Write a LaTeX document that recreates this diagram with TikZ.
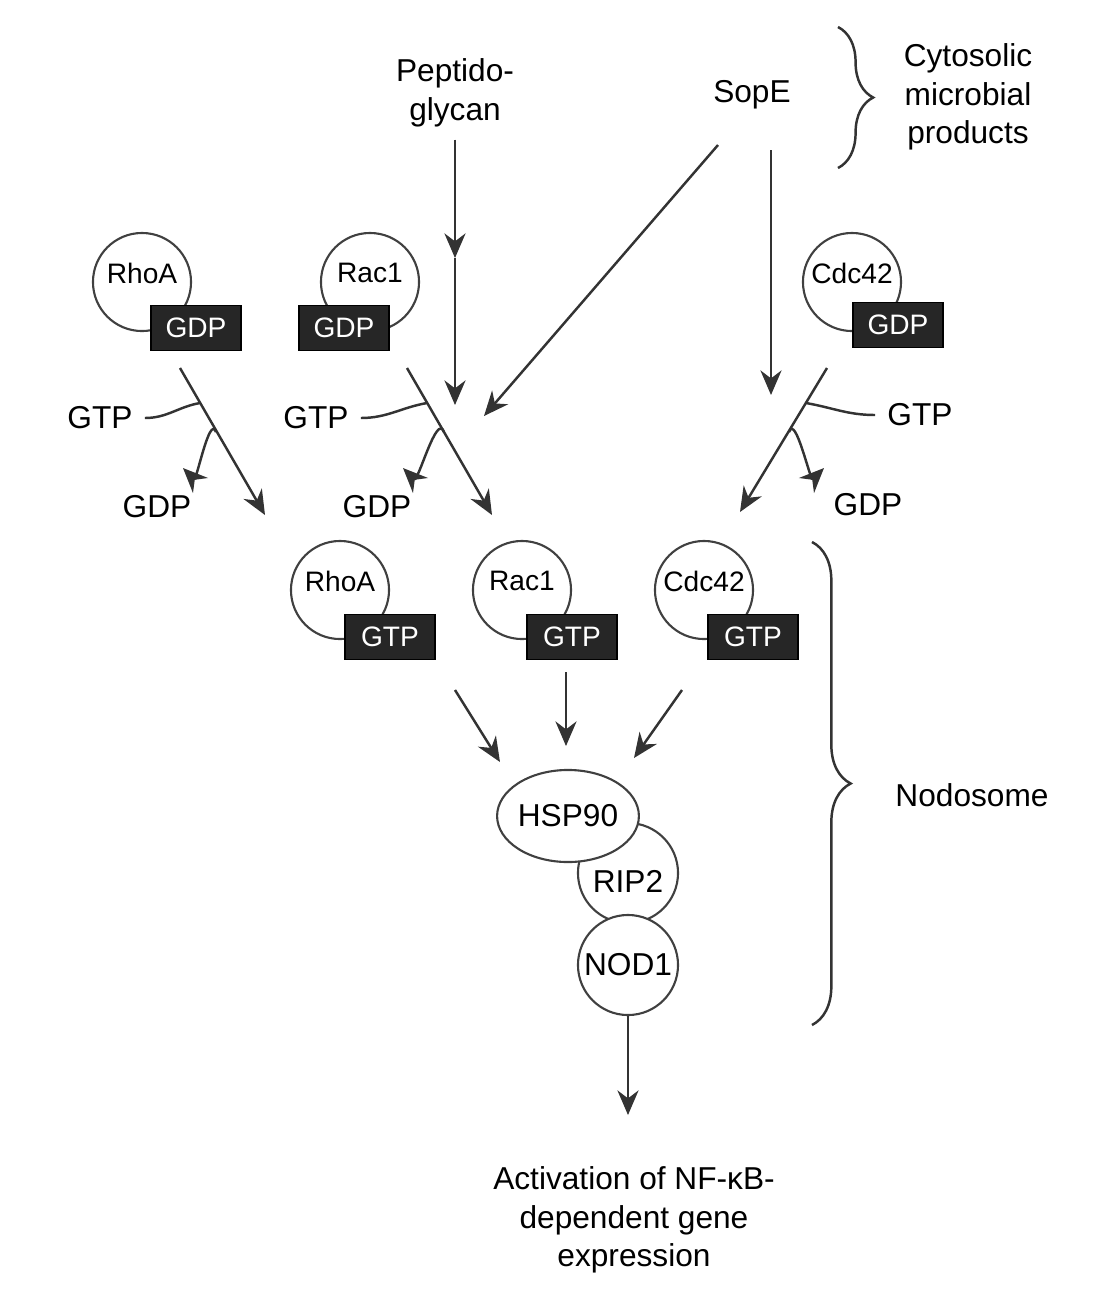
\documentclass[tikz,border=0pt]{standalone}
\usepackage{fontspec}
\setmainfont{Liberation Sans}
\usetikzlibrary{arrows.meta, positioning, calc, decorations.pathreplacing, shapes.geometric}

\begin{document}
\begin{tikzpicture}[x=0.01cm, y=-0.01cm, >={Stealth[length=7pt, width=6pt]},
  font=\fontsize{9}{11}\selectfont,
  gtpase/.style={circle, draw=black!75, line width=0.6pt, fill=white,
                 minimum size=0.98cm, inner sep=0pt, text depth=0.18cm,
                 font=\fontsize{8}{10}\selectfont},
  nucl/.style={draw=black, fill=black!85, text=white, minimum width=0.9cm,
               minimum height=0.45cm, inner sep=1pt, font=\fontsize{8}{10}\selectfont},
  conn/.style={->, black!80, line width=0.7pt},
  wiggle/.style={black!80, line width=0.7pt}]

  \useasboundingbox (0,0) rectangle (1102,1302);

  % Stimuli
  \node[align=center] (pgn) at (455,93) {Peptido-\\glycan};
  \node (sope) at (752,95) {SopE};
  \node[align=center] (cmp) at (968,97) {Cytosolic\\microbial\\products};
  \draw[decorate, decoration={brace, amplitude=10pt}, black!80, line width=0.7pt]
    (838,27) -- (838,168);

  % Inactive GTPases
  \node[gtpase] (rhoAi) at (142,282) {RhoA};
  \node[nucl] (rhoAiN) at (196,328) {GDP};
  \node[gtpase] (rac1i) at (370,282) {Rac1};
  \node[nucl] (rac1iN) at (344,328) {GDP};
  \node[gtpase] (cdc42i) at (852,282) {Cdc42};
  \node[nucl] (cdc42iN) at (898,325) {GDP};

  % Active GTPases
  \node[gtpase] (rhoAa) at (340,590) {RhoA};
  \node[nucl] (rhoAaN) at (390,637) {GTP};
  \node[gtpase] (rac1a) at (522,590) {Rac1};
  \node[nucl] (rac1aN) at (572,637) {GTP};
  \node[gtpase] (cdc42a) at (704,590) {Cdc42};
  \node[nucl] (cdc42aN) at (753,637) {GTP};

  % Exchange labels
  \node (gtpL) at (100,418) {GTP};
  \node (gdpL) at (157,507) {GDP};
  \node (gtpM) at (316,418) {GTP};
  \node (gdpM) at (377,507) {GDP};
  \node (gtpR) at (920,415) {GTP};
  \node (gdpR) at (868,505) {GDP};

  % Exchange points
  \coordinate (rhoS) at (180,368);  \coordinate (rhoE) at (265,515);
  \coordinate (rhoX1) at (200,403); \coordinate (rhoX2) at (216,432);
  \coordinate (rhoG) at (183,468);
  \coordinate (racS) at (407,368);  \coordinate (racE) at (492,515);
  \coordinate (racX1) at (427,403); \coordinate (racX2) at (444,432);
  \coordinate (racG) at (403,468);
  \coordinate (cdcS) at (827,368);  \coordinate (cdcE) at (740,512);
  \coordinate (cdcX1) at (806,403); \coordinate (cdcX2) at (789,432);
  \coordinate (cdcG) at (824,468);

  \draw[conn] (rhoS) -- (rhoE);
  \draw[wiggle] (gtpL.east) to[out=0, in=190] (rhoX1);
  \draw[conn] (rhoX2) to[out=110, in=-45] (rhoG);
  \draw[conn] (racS) -- (racE);
  \draw[wiggle] (gtpM.east) to[out=0, in=190] (racX1);
  \draw[conn] (racX2) to[out=110, in=-45] (racG);
  \draw[conn] (cdcS) -- (cdcE);
  \draw[wiggle] (gtpR.west) to[out=180, in=-10] (cdcX1);
  \draw[conn] (cdcX2) to[out=70, in=-135] (cdcG);

  % Stimulus arrows
  \coordinate (pgMid) at (455,258);
  \coordinate (pgEnd) at (455,405);
  \coordinate (sopA) at (718,145);
  \coordinate (sopAEnd) at (484,416);
  \coordinate (sopB) at (771,150);
  \coordinate (sopBEnd) at (771,395);
  \draw[conn] (pgn.south) -- (pgMid);
  \draw[conn] (pgMid) -- (pgEnd);
  \draw[conn] (sopA) -- (sopAEnd);
  \draw[conn] (sopB) -- (sopBEnd);

  % Nodosome
  \node[circle, draw=black!75, line width=0.6pt, fill=white, minimum size=1cm,
        inner sep=0pt, text height=0.38cm] (rip) at (628,873) {RIP2};
  \node[circle, draw=black!75, line width=0.6pt, fill=white, minimum size=1cm,
        inner sep=0pt] (nod) at (628,965) {NOD1};
  \node[ellipse, draw=black!75, line width=0.6pt, fill=white, minimum width=1.36cm,
        minimum height=0.92cm, inner sep=0pt] (hsp) at (568,816) {HSP90};

  \coordinate (inL) at (455,690);  \coordinate (inLEnd) at (500,762);
  \coordinate (inM) at (566,672);  \coordinate (inMEnd) at (566,746);
  \coordinate (inR) at (682,690);  \coordinate (inREnd) at (634,758);
  \draw[conn] (inL) -- (inLEnd);
  \draw[conn] (inM) -- (inMEnd);
  \draw[conn] (inR) -- (inREnd);

  \draw[decorate, decoration={brace, amplitude=11pt}, black!80, line width=0.7pt]
    (812,542) -- (812,1025);
  \node (nodo) at (972,795) {Nodosome};

  % Output
  \node[align=center] (actv) at (634,1220) {Activation of NF-κB-\\dependent gene\\expression};
  \coordinate (actArr) at (628,1115);
  \draw[conn] (nod.south) -- (actArr);
\end{tikzpicture}
\end{document}
